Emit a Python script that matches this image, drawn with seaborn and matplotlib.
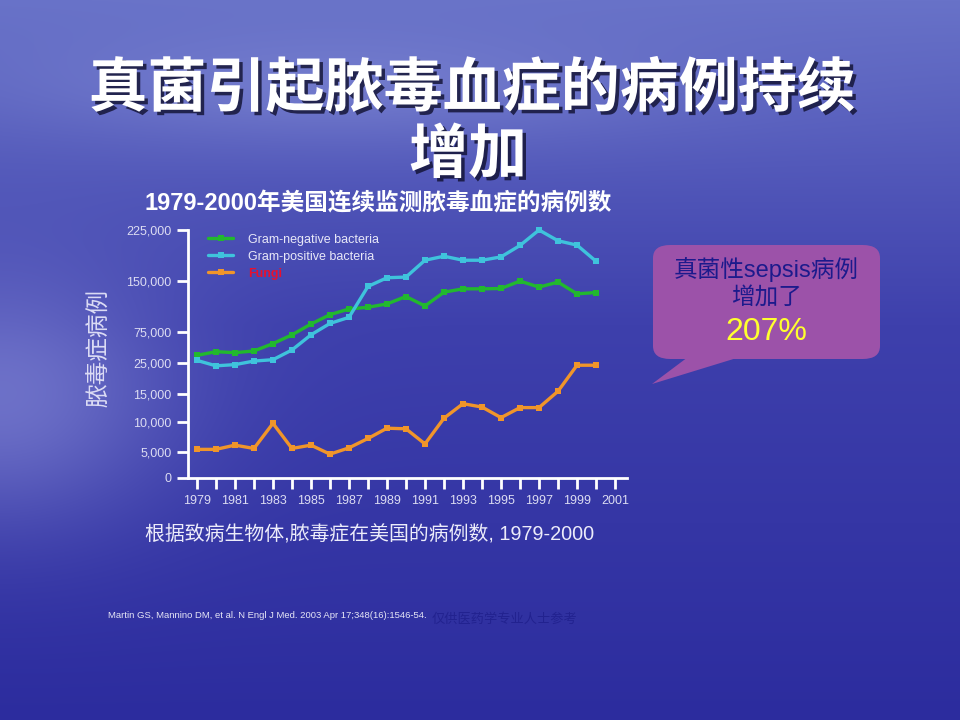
import numpy as np
import pandas as pd
import matplotlib
matplotlib.use("Agg")
import matplotlib.pyplot as plt
import matplotlib.patheffects as pe
from matplotlib.patches import FancyBboxPatch, Polygon
import seaborn as sns

# ---------------- data ----------------
years = list(range(1979, 2001))
gram_negative = [38000, 44000, 42400, 45100, 57000, 71200, 87300, 101000, 109300, 111800,
                 116700, 127500, 113700, 133800, 138700, 138700, 139200, 150000, 141200,
                 148500, 131400, 133300]
gram_positive = [29900, 24200, 24600, 28800, 31000, 46700, 71200, 88200, 97100, 142200,
                 154900, 155900, 180600, 186500, 180600, 180600, 185500, 202300, 225000,
                 209200, 202800, 179100]
fungi = [5400, 5400, 6100, 5550, 9700, 5550, 6100, 4550, 5650, 7200, 8900, 8800, 6300,
         10600, 13200, 12600, 10700, 12500, 12500, 15800, 24400, 24400]
series_names = ["Gram-negative bacteria", "Gram-positive bacteria", "Fungi"]
ytick_values = [0, 5000, 10000, 15000, 25000, 75000, 150000, 225000]
ytick_labels = ["0", "5,000", "10,000", "15,000", "25,000", "75,000", "150,000", "225,000"]
xtick_years = list(range(1979, 2002))
xtick_labels = [str(y) if y % 2 == 1 else "" for y in xtick_years]

main_title_1 = "真菌引起脓毒血症的病例持续"
main_title_2 = "增加"
chart_title = "1979-2000年美国连续监测脓毒血症的病例数"
y_label = "脓毒症病例"
subtitle = "根据致病生物体,脓毒症在美国的病例数, 1979-2000"
citation = "Martin GS, Mannino DM, et al. N Engl J Med. 2003 Apr 17;348(16):1546-54."
watermark = "仅供医药学专业人士参考"
callout_1 = "真菌性sepsis病例"
callout_2 = "增加了"
callout_3 = "207%"

# visual spacing of the broken (non-linear) value axis
axis_units = [0, 78, 168, 251, 341, 433, 586, 738]

df = pd.DataFrame({
    "year": years * 3,
    "cases": gram_negative + gram_positive + fungi,
    "organism": [series_names[0]] * len(years) + [series_names[1]] * len(years)
                + [series_names[2]] * len(years),
})

palette = {series_names[0]: "#22b82e", series_names[1]: "#3fc3dc", series_names[2]: "#f0952a"}

sns.set_theme(style="white")
plt.rcParams["font.family"] = ["Liberation Sans", "Noto Sans CJK SC", "DejaVu Sans"]
plt.rcParams["axes.unicode_minus"] = False

fig = plt.figure(figsize=(9.6, 7.2), dpi=100)

# ---------------- background ----------------
H, W = 720, 960
yy, xx = np.mgrid[0:H, 0:W]
yy = yy / H
xx = xx / W
top = np.array([104, 114, 200]) / 255
mid = np.array([62, 64, 172]) / 255
bot = np.array([44, 44, 158]) / 255
t1 = np.clip(yy / 0.45, 0, 1)[..., None]
t2 = np.clip((yy - 0.45) / 0.55, 0, 1)[..., None]
img = top * (1 - t1) + mid * t1
img = np.where(yy[..., None] > 0.45, mid * (1 - t2) + bot * t2, img)
glow = np.exp(-(((xx - 0.0) / 0.18) ** 2 + ((yy - 0.55) / 0.18) ** 2))[..., None]
img = img + glow * (np.array([150, 155, 225]) / 255 - img) * 0.55
cloud = np.exp(-(((xx - 0.35) / 0.35) ** 2 + ((yy - 0.12) / 0.08) ** 2))[..., None]
img = img + cloud * (np.array([150, 160, 225]) / 255 - img) * 0.35
img = np.clip(img, 0, 1)
bg = fig.add_axes([0, 0, 1, 1], zorder=-10)
bg.imshow(img, aspect="auto", extent=(0, 1, 0, 1), origin="upper")
bg.set_xlim(0, 1)
bg.set_ylim(0, 1)
bg.axis("off")

# ---------------- chart ----------------
ax = fig.add_axes([188 / 960, 1 - 478 / 720, (627 - 188) / 960, (478 - 230) / 720])
ax.set_facecolor("none")

def fwd(v):
    return np.interp(v, ytick_values, axis_units)

def inv(u):
    return np.interp(u, axis_units, ytick_values)

ax.set_yscale("function", functions=(fwd, inv))

sns.lineplot(data=df, x="year", y="cases", hue="organism", palette=palette,
             hue_order=series_names, marker="s", markersize=4.5, markeredgewidth=0,
             linewidth=2.4, ax=ax, clip_on=False)

ax.set_ylim(0, 225000)
ax.set_xlim(1978.53, 2001.63)
ax.set_yticks(ytick_values)
ax.set_yticklabels(ytick_labels)
ax.set_xticks(xtick_years)
ax.set_xticklabels(xtick_labels)
ax.set_xlabel("")
ax.set_ylabel("")
for s in ["top", "right"]:
    ax.spines[s].set_visible(False)
for s in ["left", "bottom"]:
    ax.spines[s].set_color("white")
    ax.spines[s].set_linewidth(2)
ax.tick_params(axis="both", colors="white", width=2, length=8, direction="out",
               labelsize=9, labelcolor="#dcdcf2", left=True, bottom=True, pad=4)

leg = ax.legend(loc="upper left", bbox_to_anchor=(0.035, 1.005), frameon=False,
                fontsize=9, handlelength=2.0, labelspacing=0.4, borderaxespad=0,
                handletextpad=1.2)
for txt in leg.get_texts():
    txt.set_color("#e8e8f8")
leg.get_texts()[2].set_color("#e8102e")
leg.get_texts()[2].set_fontweight("bold")

# ---------------- texts ----------------
shadow = [pe.SimplePatchShadow(offset=(2.5, -2.5), shadow_rgbFace="#101030", alpha=0.8), pe.Normal()]
fig.text(472 / 960, 1 - 90 / 720, main_title_1, ha="center", va="center", fontsize=42.5,
         fontweight="bold", color="white", path_effects=shadow)
fig.text(468 / 960, 1 - 157 / 720, main_title_2, ha="center", va="center", fontsize=42.5,
         fontweight="bold", color="white", path_effects=shadow)
fig.text(378 / 960, 1 - 204 / 720, chart_title, ha="center", va="center", fontsize=17,
         fontweight="bold", color="white")
fig.text(100 / 960, 1 - 348 / 720, y_label, ha="center", va="center", rotation=90,
         fontsize=17, color="#dcdcf5")
fig.text(145 / 960, 1 - 535 / 720, subtitle, ha="left", va="center", fontsize=14.3,
         color="#ececfa")
fig.text(108 / 960, 1 - 616 / 720, citation, ha="left", va="center", fontsize=6.8,
         color="#e6e6f6")
fig.text(432 / 960, 1 - 620 / 720, watermark, ha="left", va="center", fontsize=9.5,
         color="#22228f")

# ---------------- callout ----------------
cx0, cy0, cx1, cy1 = 653, 245, 880, 359
box = FancyBboxPatch((cx0 / 960, 1 - cy1 / 720), (cx1 - cx0) / 960, (cy1 - cy0) / 720,
                     boxstyle="round,pad=0,rounding_size=0.018", transform=fig.transFigure,
                     facecolor="#9c52a9", edgecolor="none", zorder=5)
fig.patches.append(box)
tail = Polygon([(688 / 960, 1 - 357 / 720), (652 / 960, 1 - 384 / 720), (740 / 960, 1 - 357 / 720)],
               closed=True, transform=fig.transFigure, facecolor="#9c52a9", edgecolor="none",
               zorder=5)
fig.patches.append(tail)
fig.text(766 / 960, 1 - 269 / 720, callout_1, ha="center", va="center", fontsize=17,
         color="#1c1a8c", zorder=6)
fig.text(766 / 960, 1 - 299 / 720, callout_2, ha="center", va="center", fontsize=17,
         color="#1c1a8c", zorder=6)
fig.text(766 / 960, 1 - 332 / 720, callout_3, ha="center", va="center", fontsize=23,
         color="#ffff2e", zorder=6)

fig.savefig("out.png", dpi=100)
